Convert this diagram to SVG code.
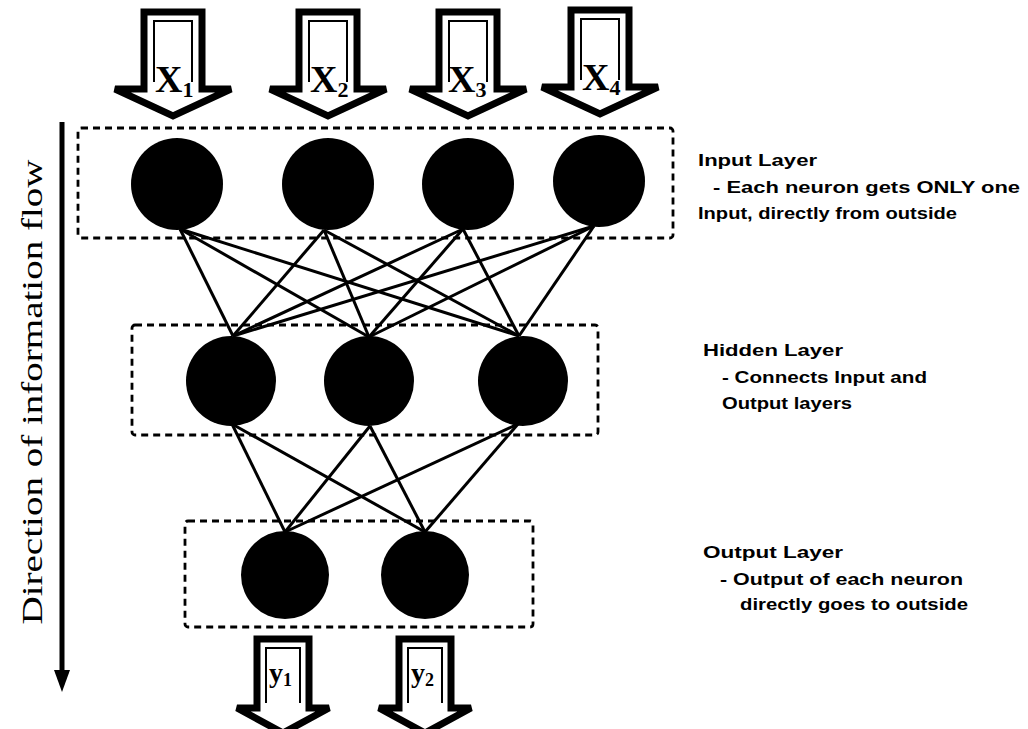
<svg xmlns="http://www.w3.org/2000/svg" width="1028" height="729" viewBox="0 0 1028 729">
<style>
.box{fill:none;stroke:#000;stroke-width:2.8;stroke-dasharray:7 5}
.neuron{fill:#000}
.conn line{stroke:#000;stroke-width:3}
.arrow{fill:#fff;stroke:#000;stroke-width:7;stroke-linejoin:miter}
.inner{fill:none;stroke:#000;stroke-width:2}
.xl{font-family:"Liberation Serif",serif;font-weight:bold;fill:#000}
.note{font-family:"Liberation Sans",Arial,sans-serif;font-weight:bold;font-size:16px;fill:#000}
.dir{font-family:"Liberation Serif",serif;font-size:30px;fill:#000}
</style>
<defs>
<path id="inArrow" d="M-29,0 H29 V77 H58 L0,104 L-58,77 H-29 Z"/>
<path id="inInner" d="M-19,70 V9 H19 V70"/>
<path id="outArrow" d="M-26,0 H26 V69 H46 L0,94 L-46,69 H-26 Z"/>
<path id="outInner" d="M-17,64 V9 H17 V64"/>
</defs>
<rect width="1028" height="729" fill="#fff"/>

<g id="direction">
<line x1="62" y1="122" x2="62" y2="678" stroke="#000" stroke-width="5"/>
<path d="M54,670 L70,670 L62,692 Z" fill="#000"/>
<text class="dir" transform="translate(42,392) rotate(-90)" text-anchor="middle" textLength="465" lengthAdjust="spacingAndGlyphs">Direction of information flow</text>
</g>

<g id="layer-boxes">
<rect id="input-box" class="box" x="78" y="128" width="595" height="110" rx="3"/>
<rect id="hidden-box" class="box" x="132" y="325" width="466" height="110" rx="3"/>
<rect id="output-box" class="box" x="185" y="521" width="348" height="106" rx="3"/>
</g>

<g class="conn" id="connectors">
<line x1="180" y1="229" x2="233" y2="336"/>
<line x1="180" y1="229" x2="369" y2="337"/>
<line x1="180" y1="229" x2="519" y2="336"/>
<line x1="324" y1="230" x2="233" y2="336"/>
<line x1="324" y1="230" x2="369" y2="337"/>
<line x1="324" y1="230" x2="519" y2="336"/>
<line x1="463" y1="229" x2="233" y2="336"/>
<line x1="463" y1="229" x2="369" y2="337"/>
<line x1="463" y1="229" x2="519" y2="336"/>
<line x1="594" y1="226" x2="233" y2="336"/>
<line x1="594" y1="226" x2="369" y2="337"/>
<line x1="594" y1="226" x2="519" y2="336"/>
<line x1="232" y1="424" x2="285" y2="532"/>
<line x1="232" y1="424" x2="425" y2="532"/>
<line x1="370" y1="426" x2="285" y2="532"/>
<line x1="370" y1="426" x2="425" y2="532"/>
<line x1="518" y1="424" x2="285" y2="532"/>
<line x1="518" y1="424" x2="425" y2="532"/>
</g>

<g id="input-x1">
<use href="#inArrow" class="arrow" transform="translate(173,12)"/>
<use href="#inInner" class="inner" transform="translate(173,12)"/>
<text class="xl" x="155" y="92" font-size="38">X<tspan font-size="22" dy="5">1</tspan></text>
</g>
<g id="input-x2">
<use href="#inArrow" class="arrow" transform="translate(328,12)"/>
<use href="#inInner" class="inner" transform="translate(328,12)"/>
<text class="xl" x="310" y="92" font-size="38">X<tspan font-size="22" dy="5">2</tspan></text>
</g>
<g id="input-x3">
<use href="#inArrow" class="arrow" transform="translate(468,12)"/>
<use href="#inInner" class="inner" transform="translate(468,12)"/>
<text class="xl" x="448" y="92" font-size="38">X<tspan font-size="22" dy="5">3</tspan></text>
</g>
<g id="input-x4">
<use href="#inArrow" class="arrow" transform="translate(600,10)"/>
<use href="#inInner" class="inner" transform="translate(600,10)"/>
<text class="xl" x="582" y="90" font-size="38">X<tspan font-size="22" dy="5">4</tspan></text>
</g>

<g id="input-neurons">
<circle id="in1" class="neuron" cx="177" cy="184" r="46"/>
<circle id="in2" class="neuron" cx="328" cy="184" r="46"/>
<circle id="in3" class="neuron" cx="468" cy="184" r="46"/>
<circle id="in4" class="neuron" cx="599" cy="181" r="46"/>
</g>

<g id="hidden-neurons">
<circle id="h1" class="neuron" cx="231" cy="381" r="45"/>
<circle id="h2" class="neuron" cx="369" cy="381" r="45"/>
<circle id="h3" class="neuron" cx="523" cy="381" r="45"/>
</g>

<g id="output-neurons">
<circle id="o1" class="neuron" cx="285" cy="575" r="44"/>
<circle id="o2" class="neuron" cx="425" cy="575" r="44"/>
</g>

<g id="output-y1">
<use href="#outArrow" class="arrow" transform="translate(283,639)"/>
<use href="#outInner" class="inner" transform="translate(283,639)"/>
<text class="xl" x="269" y="682" font-size="28">y<tspan font-size="18" dy="4">1</tspan></text>
</g>
<g id="output-y2">
<use href="#outArrow" class="arrow" transform="translate(425,639)"/>
<use href="#outInner" class="inner" transform="translate(425,639)"/>
<text class="xl" x="411" y="682" font-size="28">y<tspan font-size="18" dy="4">2</tspan></text>
</g>

<g id="note-input">
<text class="note" x="698" y="166" textLength="119" lengthAdjust="spacingAndGlyphs">Input Layer</text>
<text class="note" x="713" y="193" textLength="307" lengthAdjust="spacingAndGlyphs">- Each neuron gets ONLY one</text>
<text class="note" x="698" y="219" textLength="259" lengthAdjust="spacingAndGlyphs">Input, directly from outside</text>
</g>
<g id="note-hidden">
<text class="note" x="703" y="356" textLength="140" lengthAdjust="spacingAndGlyphs">Hidden Layer</text>
<text class="note" x="722" y="383" textLength="205" lengthAdjust="spacingAndGlyphs">- Connects Input and</text>
<text class="note" x="722" y="409" textLength="130" lengthAdjust="spacingAndGlyphs">Output layers</text>
</g>
<g id="note-output">
<text class="note" x="703" y="558" textLength="140" lengthAdjust="spacingAndGlyphs">Output Layer</text>
<text class="note" x="720" y="585" textLength="243" lengthAdjust="spacingAndGlyphs">- Output of each neuron</text>
<text class="note" x="740" y="610" textLength="228" lengthAdjust="spacingAndGlyphs">directly goes to outside</text>
</g>
</svg>
